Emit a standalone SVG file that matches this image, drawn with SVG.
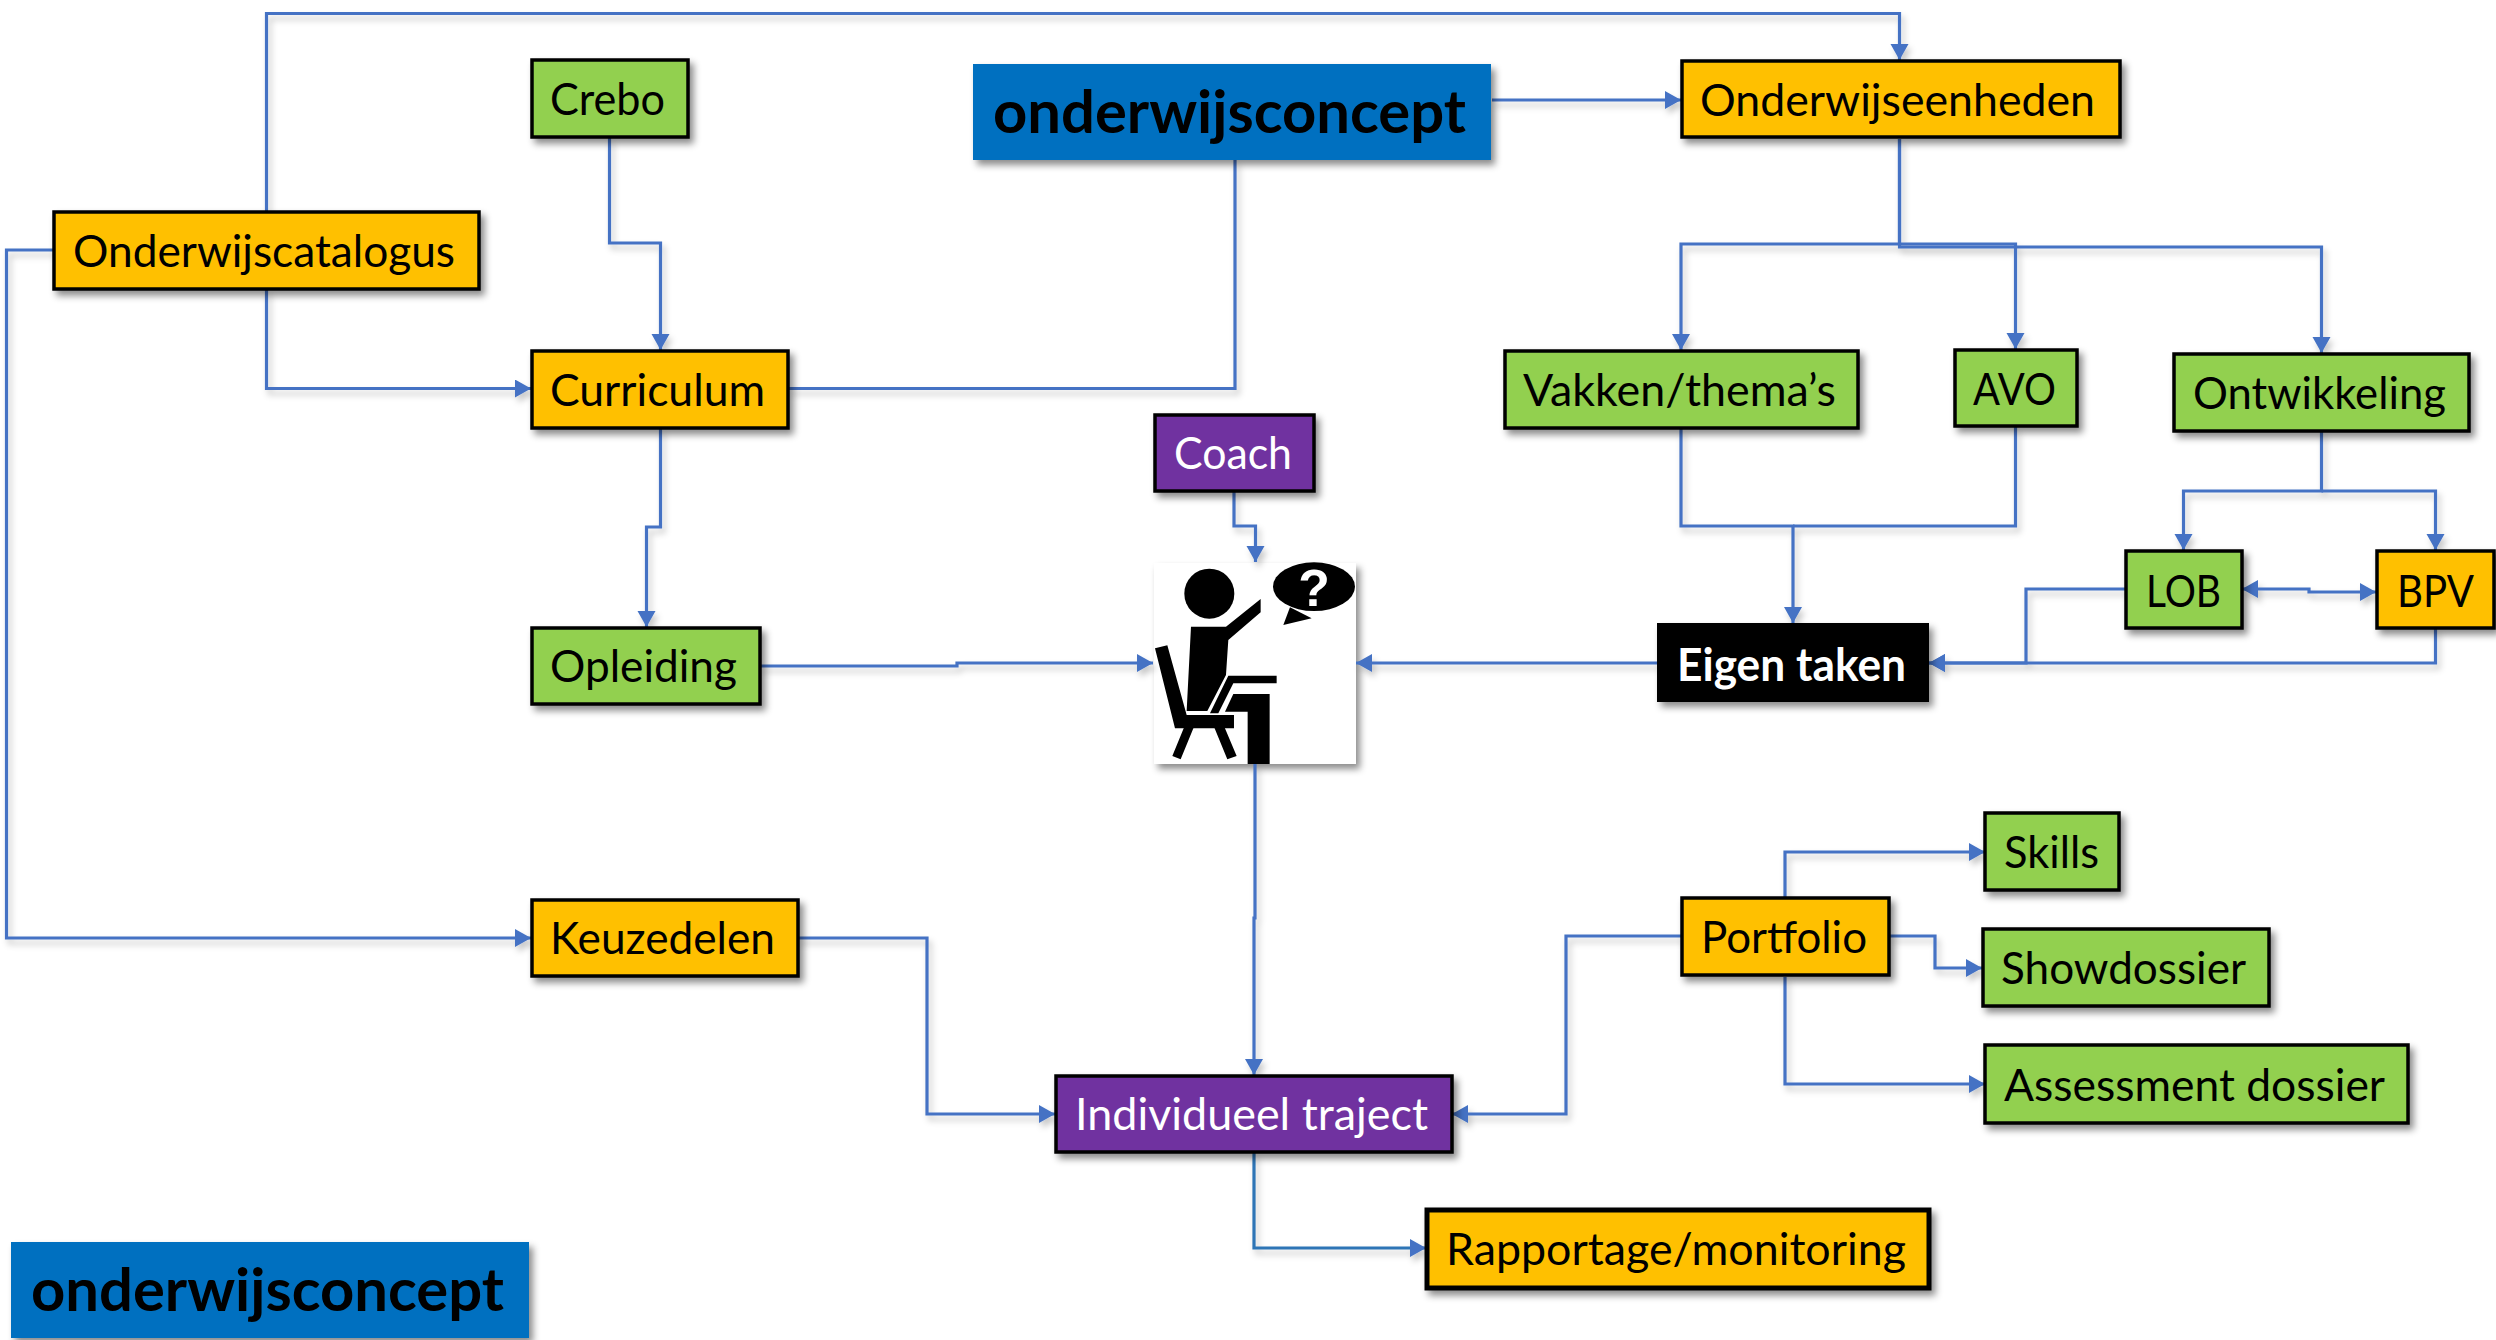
<svg xmlns="http://www.w3.org/2000/svg" width="2496" height="1340" viewBox="0 0 2496 1340">
<style>
text{font-family:Lato,"Open Sans","Liberation Sans",sans-serif;font-size:45px;fill:#000}
.b{stroke:#000;stroke-width:3.5;filter:url(#s)}
.o{fill:#FFC000}.g{fill:#92D050}.p{fill:#7030A0}
.big{font-size:60px;font-weight:700}
.c{fill:none;stroke:#4472C4;stroke-width:3.2}
.a{marker-end:url(#ah)}
</style>
<defs>
<filter id="s" x="-20%" y="-20%" width="140%" height="150%"><feDropShadow dx="4" dy="5" stdDeviation="3.5" flood-color="#000" flood-opacity=".45"/></filter>
<filter id="l" filterUnits="userSpaceOnUse" x="0" y="0" width="2496" height="1340"><feDropShadow dx="3" dy="5" stdDeviation="3" flood-color="#000" flood-opacity=".22"/></filter>
<marker id="ah" markerUnits="userSpaceOnUse" markerWidth="17" markerHeight="20" refX="16" refY="9" orient="auto-start-reverse"><path d="M0 0L16 9L0 18Z" fill="#4472C4"/></marker>
</defs>
<rect width="2496" height="1340" fill="#fff"/>
<g id="figure">
<rect x="1154" y="563" width="202" height="201" fill="#fff" filter="url(#s)"/>
<g transform="translate(1090 520) scale(.3333)">
<circle cx="358" cy="221" r="75"/>
<path d="M303 320H408L512 237V277L415 360L408 465L352 573H290Z"/>
<path d="M195 385L232 376L290 585H432V625H255Z"/>
<path d="M283 620L247 708L272 718L312 620ZM372 620L412 718L440 708L403 620Z"/>
<path d="M415 467H560V490H430L385 580H360Z"/>
<path d="M430 522H539V732H473V575H405Z"/>
<ellipse cx="672" cy="200" rx="123" ry="73"/>
<path d="M600 262L580 315L665 295Z"/>
<text x="672" y="258" text-anchor="middle" style="font-family:'Liberation Sans',sans-serif;font-size:155px;font-weight:700;fill:#fff">?</text>
</g>
</g>
<g id="connectors" filter="url(#l)">
<path class="c a" d="M266.500 211V13.500H1899.500V60"/>
<path class="c a" d="M53 250H6.500V938H531"/>
<path class="c a" d="M266.500 289V388.500H531"/>
<path class="c a" d="M609.500 137V243H660.500V350"/>
<path class="c" d="M789 388.500H1235V160"/>
<path class="c a" d="M660.500 428V527H646.500V627"/>
<path class="c a" d="M760 666H957V663H1153"/>
<path class="c a" d="M1492 100H1681"/>
<path class="c a" d="M1899.500 139V244H1681V350"/>
<path class="c a" d="M1899.500 244H2015.500V349"/>
<path class="c a" d="M1899.500 139V247H2321.500V353"/>
<path class="c a" d="M1681 429V526H1793V623"/>
<path class="c" d="M2015.500 427V526H1793"/>
<path class="c a" d="M2321.500 431V491H2183.500V550"/>
<path class="c a" d="M2321.500 491H2435.500V550"/>
<path class="c a" style="marker-start:url(#ah)" d="M2242 589H2309V592H2376"/>
<path class="c a" d="M2125 589H2026V663H1929"/>
<path class="c a" d="M2435.500 628V663H1929"/>
<path class="c a" d="M1657 663H1356"/>
<path class="c a" d="M1234 492V526H1255.500V562"/>
<path class="c a" d="M1255 764V918H1254V1075"/>
<path class="c a" d="M798 938H927V1114H1055"/>
<path class="c a" d="M1681 936H1566V1114H1452"/>
<path class="c a" d="M1785 898V852H1985"/>
<path class="c a" d="M1890 936H1935V968H1982"/>
<path class="c a" d="M1785 977V1084H1985"/>
<path class="c a" d="M1254 1153V1248H1426" style="stroke:#2E75B6"/>
</g>
<g id="onderwijsconcept-top"><rect x="973" y="64" width="518" height="96" fill="#0070C0" filter="url(#s)"/><text class="big" x="993" y="133" textLength="473" lengthAdjust="spacingAndGlyphs">onderwijsconcept</text></g>
<g id="onderwijsconcept-bottom"><rect x="11" y="1242" width="518" height="96" fill="#0070C0" filter="url(#s)"/><text class="big" x="31" y="1311" textLength="473" lengthAdjust="spacingAndGlyphs">onderwijsconcept</text></g>
<g id="crebo"><rect class="b g" x="532" y="60" width="156" height="77"/><text x="550" y="115" textLength="115" lengthAdjust="spacingAndGlyphs">Crebo</text></g>
<g id="onderwijscatalogus"><rect class="b o" x="54" y="212" width="425" height="77"/><text x="73" y="267" textLength="382" lengthAdjust="spacingAndGlyphs">Onderwijscatalogus</text></g>
<g id="curriculum"><rect class="b o" x="532" y="351" width="256" height="77"/><text x="550" y="406" textLength="215" lengthAdjust="spacingAndGlyphs">Curriculum</text></g>
<g id="opleiding"><rect class="b g" x="532" y="628" width="228" height="76"/><text x="550" y="682" textLength="187" lengthAdjust="spacingAndGlyphs">Opleiding</text></g>
<g id="keuzedelen"><rect class="b o" x="532" y="900" width="266" height="76"/><text x="550" y="954" textLength="225" lengthAdjust="spacingAndGlyphs">Keuzedelen</text></g>
<g id="coach"><rect class="b p" x="1155" y="415" width="159" height="76"/><text x="1174" y="469" textLength="118" lengthAdjust="spacingAndGlyphs" style="fill:#fff">Coach</text></g>
<g id="onderwijseenheden"><rect class="b o" x="1682" y="61" width="438" height="76"/><text x="1700" y="116" textLength="395" lengthAdjust="spacingAndGlyphs">Onderwijseenheden</text></g>
<g id="vakken"><rect class="b g" x="1505" y="351" width="353" height="77"/><text x="1523" y="406" textLength="313" lengthAdjust="spacingAndGlyphs">Vakken/thema’s</text></g>
<g id="avo"><rect class="b g" x="1955" y="350" width="122" height="76"/><text x="1973" y="405" textLength="83" lengthAdjust="spacingAndGlyphs">AVO</text></g>
<g id="ontwikkeling"><rect class="b g" x="2174" y="354" width="295" height="77"/><text x="2193" y="409" textLength="253" lengthAdjust="spacingAndGlyphs">Ontwikkeling</text></g>
<g id="lob"><rect class="b g" x="2126" y="551" width="116" height="77"/><text x="2146" y="607" textLength="75" lengthAdjust="spacingAndGlyphs">LOB</text></g>
<g id="bpv"><rect class="b o" x="2377" y="551" width="117" height="77"/><text x="2397" y="607" textLength="77" lengthAdjust="spacingAndGlyphs">BPV</text></g>
<g id="eigen-taken"><rect x="1657" y="623" width="272" height="79" fill="#000" filter="url(#s)"/><text x="1677" y="681" textLength="229" lengthAdjust="spacingAndGlyphs" style="fill:#fff;font-weight:700">Eigen taken</text></g>
<g id="skills"><rect class="b g" x="1985" y="813" width="134" height="77"/><text x="2004" y="868" textLength="95" lengthAdjust="spacingAndGlyphs">Skills</text></g>
<g id="showdossier"><rect class="b g" x="1983" y="929" width="286" height="77"/><text x="2001" y="984" textLength="245" lengthAdjust="spacingAndGlyphs">Showdossier</text></g>
<g id="assessment"><rect class="b g" x="1985" y="1045" width="423" height="78"/><text x="2004" y="1101" textLength="381" lengthAdjust="spacingAndGlyphs">Assessment dossier</text></g>
<g id="portfolio"><rect class="b o" x="1682" y="898" width="207" height="77"/><text x="1701" y="953" textLength="166" lengthAdjust="spacingAndGlyphs">Portfolio</text></g>
<g id="individueel"><rect class="b p" x="1056" y="1076" width="396" height="76"/><text x="1075" y="1130" textLength="353" lengthAdjust="spacingAndGlyphs" style="fill:#fff">Individueel traject</text></g>
<g id="rapportage"><rect class="b o" x="1427" y="1210" width="502" height="78" style="stroke-width:5"/><text x="1446" y="1265" textLength="460" lengthAdjust="spacingAndGlyphs">Rapportage/monitoring</text></g>
</svg>
